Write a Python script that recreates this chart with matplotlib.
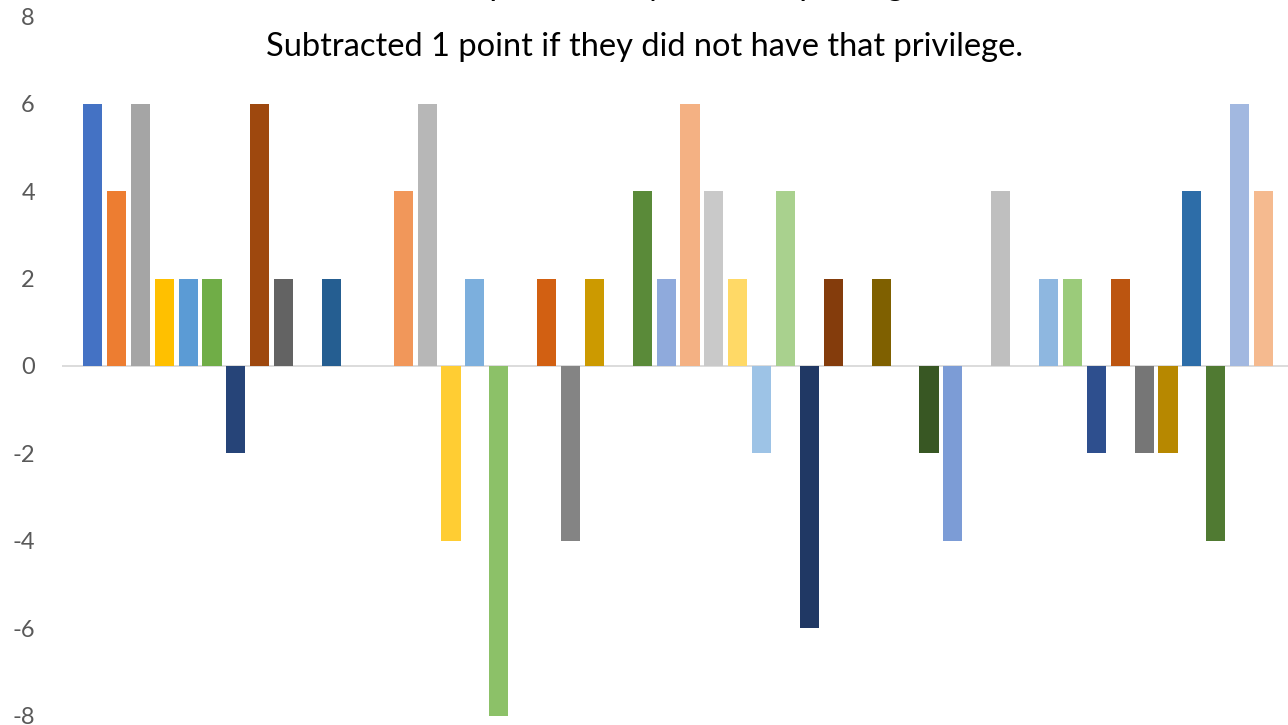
import matplotlib
matplotlib.use("Agg")
import matplotlib.pyplot as plt

# One category, 50 series (Excel clustered columns); 0 means an empty slot
series_values = [6, 4, 6, 2, 2, 2, -2, 6, 2, 0,
                 2, 0, 0, 4, 6, -4, 2, -8, 0, 2,
                 -4, 2, 0, 4, 2, 6, 4, 2, -2, 4,
                 -6, 2, 0, 2, 0, -2, -4, 0, 4, 0,
                 2, 2, -2, 2, -2, -2, 4, -4, 6, 4]

series_colors = ["#4472C4", "#ED7D31", "#A5A5A5", "#FFC000", "#5B9BD5", "#70AD47",
                 "#264478", "#9E480E", "#636363", "#997300", "#255E91", "#43682B",
                 "#698ED0", "#F1975A", "#B7B7B7", "#FFCD33", "#7CAFDD", "#8CC168",
                 "#335AA1", "#D26012", "#848484", "#CC9A00", "#327DC2", "#5A8A39",
                 "#8FAADC", "#F4B183", "#C9C9C9", "#FFD966", "#9DC3E6", "#A9D18E",
                 "#203864", "#843C0C", "#525252", "#7F6000", "#1F4E79", "#385723",
                 "#7C9CD6", "#F4A46F", "#BFBFBF", "#FFD44D", "#8EB7E0", "#9BCB7A",
                 "#2E4F8E", "#BC5510", "#767676", "#B78800", "#2D6DA8", "#507A32",
                 "#A2B8E0", "#F5BA8F"]

y_ticks = [-8, -6, -4, -2, 0, 2, 4, 6, 8]
title_lines = ["Added 1 point if they had that privilege.",
               "Subtracted 1 point if they did not have that privilege."]

plt.rcParams['font.family'] = ['Lato', 'DejaVu Sans']

fig = plt.figure(figsize=(12.88, 7.25), dpi=100)
ax = fig.add_axes([62 / 1288, 9.5 / 725, 1 - 62 / 1288, 1 - (9.5 + 16.5) / 725])

for i, (v, c) in enumerate(zip(series_values, series_colors)):
    if v != 0:
        ax.bar(i, v, width=0.8, color=c, zorder=3)

ax.set_xlim(-1.276, 50.02)
ax.set_ylim(-8, 8)
ax.set_yticks(y_ticks)
ax.set_yticklabels([str(t) for t in y_ticks])
ax.set_xticks([])
for s in ax.spines.values():
    s.set_visible(False)
ax.axhline(0, color="#D9D9D9", lw=1.3, zorder=2)
ax.tick_params(axis='y', length=0, pad=19.5, labelsize=17, labelcolor="#595959")

fig.text(0.5, 1 - 47 / 725, title_lines[1], ha='center', va='center',
         fontsize=23.5, color="#000000")
fig.text(0.5, 1 + 14 / 725, title_lines[0], ha='center', va='center',
         fontsize=23.5, color="#000000")

fig.savefig("out.png", dpi=100)
